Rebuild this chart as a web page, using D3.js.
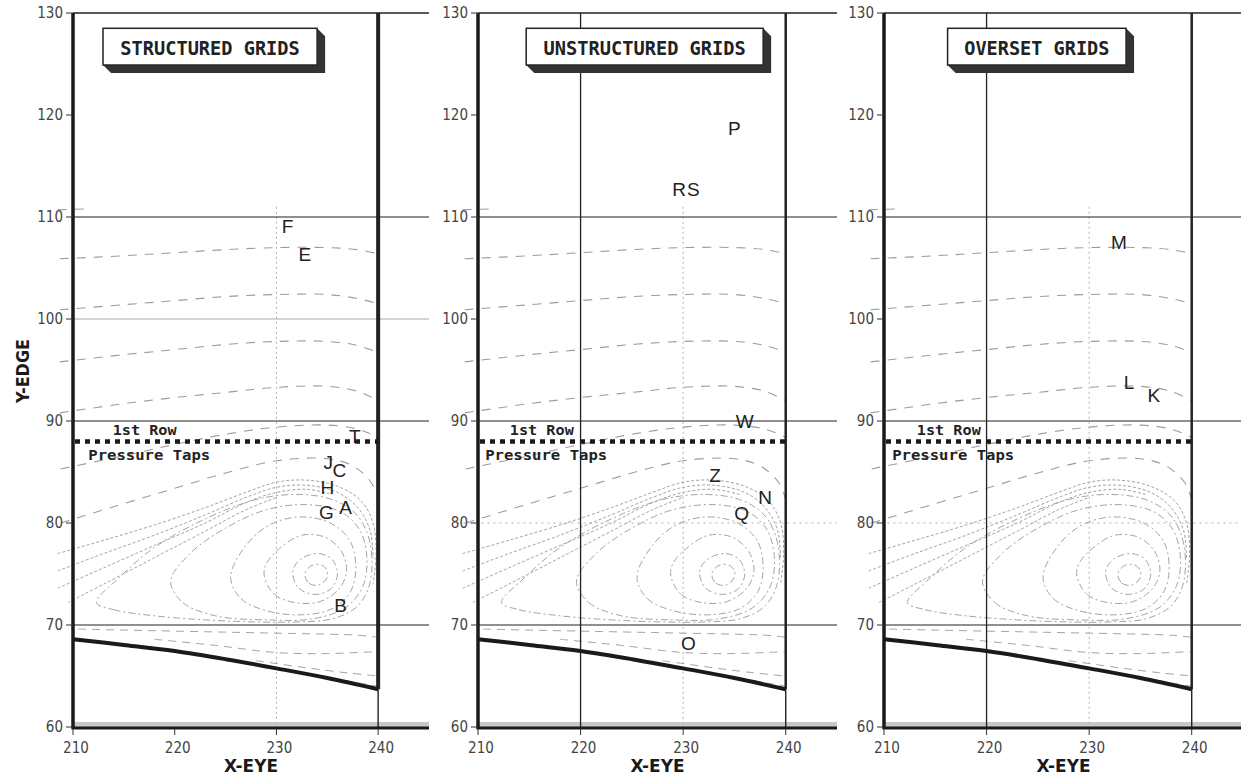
<!DOCTYPE html>
<html>
<head>
<meta charset="utf-8">
<script src="https://cdn.jsdelivr.net/npm/d3@7"></script>
<style>
  html, body { margin: 0; padding: 0; background: #fff; }
  svg { display: block; }
  .tick-label { font-family: "DejaVu Sans Condensed", "DejaVu Sans", sans-serif; font-stretch: condensed; font-size: 15px; fill: #444; }
  .axis-title { font-family: "DejaVu Sans Condensed", "DejaVu Sans", sans-serif; font-stretch: condensed; font-weight: bold; font-size: 18px; fill: #1a1a1a; }
  .panel-title { font-family: "DejaVu Sans Mono", monospace; font-weight: bold; font-size: 19px; fill: #222; }
  .tap-label { font-family: "DejaVu Sans Mono", monospace; font-weight: bold; font-size: 14px; fill: #222; }
  .point-label { font-family: "Liberation Sans", Arial, sans-serif; font-size: 19px; fill: #222; }
</style>
</head>
<body>
<script>
// ---- axes ----
const xDomain = [210, 245];
const yDomain = [60, 130];
const xTicks = [210, 220, 230, 240];
const yTicks = [60, 70, 80, 90, 100, 110, 120, 130];

// ---- panel titles ----
const panelTitles = ["STRUCTURED GRIDS", "UNSTRUCTURED GRIDS", "OVERSET GRIDS"];

// ---- lower wall (x, y) ----
const wallX = [210, 215, 220, 225, 230, 235, 240];
const wallY = [68.6, 68.05, 67.45, 66.65, 65.75, 64.8, 63.7];

// ---- first row of pressure taps ----
const tapRowY = 88;
const tapRowX = [210, 240];

// ---- labelled probe locations per panel ----
const structuredLabels = [
  { t: "F", x: 231.1, y: 109.1 }, { t: "E", x: 232.8, y: 106.3 },
  { t: "T", x: 237.7, y: 88.5 },  { t: "J", x: 235.1, y: 85.9 },
  { t: "C", x: 236.2, y: 85.1 },  { t: "H", x: 235.0, y: 83.5 },
  { t: "G", x: 234.9, y: 81.0 },  { t: "A", x: 236.8, y: 81.5 },
  { t: "B", x: 236.3, y: 71.9 }
];
const unstructuredLabels = [
  { t: "P", x: 235.0, y: 118.7 }, { t: "R", x: 229.6, y: 112.7 },
  { t: "S", x: 231.0, y: 112.7 }, { t: "W", x: 236.0, y: 90.0 },
  { t: "Z", x: 233.1, y: 84.7 },  { t: "N", x: 238.0, y: 82.5 },
  { t: "Q", x: 235.7, y: 80.9 },  { t: "O", x: 230.5, y: 68.2 }
];
const oversetLabels = [
  { t: "M", x: 232.9, y: 107.5 }, { t: "L", x: 233.9, y: 93.8 },
  { t: "K", x: 236.3, y: 92.5 }
];

// ---- streamlines (x, y) ----
const outerStreams = [
  [[208.5,110.7],[211.5,110.8]],
  [[208.7,105.9],[215,106.2],[220,106.5],[225,106.8],[230,107.0],[235,107.0],[238,106.8],[240,106.4]],
  [[208.7,100.9],[215,101.4],[220,101.8],[225,102.2],[230,102.4],[235,102.4],[238,102.0],[240,101.5]],
  [[208.7,95.8],[215,96.5],[220,97.0],[225,97.5],[230,97.8],[235,97.8],[238,97.4],[240,96.7]],
  [[208.7,90.8],[215,91.7],[220,92.3],[225,92.8],[230,93.3],[235,93.4],[238,92.9],[240,92.0]],
  [[208.8,85.3],[215,86.6],[220,87.7],[225,88.7],[230,89.4],[235,89.6],[238,89.2],[240,88.4]],
  [[208.8,80.0],[215,81.9],[220,83.4],[225,84.9],[230,86.1],[235,86.3],[237.5,85.6],[239.3,84.0],[240,82.3]]
];
const shearStreams = [
  [[208.5,77.0],[213,78.3],[218,79.8],[223,81.5],[227,83.0],[230,84.0],[233,84.2],[236,83.6],[238.3,82.2],[239.5,80.0],[239.8,77.0],[239.5,74.0]],
  [[208.5,75.3],[213,77.0],[218,78.8],[223,80.8],[227,82.5],[230,83.5],[233,83.7],[236,83.0],[238,81.5],[239.2,79.3],[239.5,76.5]],
  [[208.5,73.6],[213,75.6],[218,77.8],[223,80.0],[227,82.0],[230,83.0],[233,83.3],[235.5,82.8]],
  [[209.5,72.2],[213,74.0],[218,76.6],[223,79.2],[227,81.3],[230,82.5]]
];
const vortexLoops = [
  [[212.3,72.2],[214,71.5],[218,70.9],[223,70.5],[228,70.3],[232,70.3],[235.5,70.6],[237.8,71.7],[239.0,73.5],[239.4,76.0],[239.0,78.8],[237.8,80.9],[235.5,82.3],[232,82.8],[228,82.3],[223,80.4],[218,77.6],[214.5,74.6]],
  [[219.6,74.3],[220.8,72.2],[224,70.9],[229,70.5],[233.5,70.6],[236.8,71.7],[238.5,73.8],[238.9,76.5],[238.2,79.3],[236.3,81.1],[233,81.8],[229,81.3],[225,79.5],[221.5,77]],
  [[225.5,74.7],[226.5,72.6],[229,71.4],[232.5,71.0],[235.5,71.6],[237.3,73.3],[237.8,75.8],[237.2,78.3],[235.3,80.0],[232.3,80.6],[229.3,79.8],[227,77.8]],
  [[228.8,74.8],[229.8,73.0],[231.8,72.2],[234.3,72.3],[236.2,73.6],[236.9,75.3],[236.4,77.2],[234.8,78.6],[232.5,78.8],[230.3,77.5],[229,76]],
  [[231.6,75],[232.2,73.6],[233.8,73.0],[235.3,73.5],[236,74.9],[235.5,76.4],[234.2,77.0],[232.6,76.6],[231.8,75.8]],
  [[232.8,75],[233.2,74.1],[234.1,73.9],[234.9,74.5],[235,75.3],[234.4,75.9],[233.4,75.8]]
];
const wallStreams = [
  [[210.5,69.6],[215,69.5],[220,69.4],[225,69.3],[230,69.2],[235,69.1],[238,69.0],[240,68.8]],
  [[218,68.6],[224,68.0],[230,67.3],[235,67.2],[240,67.4]],
  [[228,66.5],[233,65.8],[237,65.3],[240,65.0]],
  [[234,65.0],[237,64.5],[240,64.0]]
];

// ---- panel layout ----
const panels = [
  { title: panelTitles[0], labels: structuredLabels, left: 73,  right: 429,
    box: [212.95, 234.0], solidH: [110, 90, 70], grayH: [100], dotH: [], solidV: [], dotV: [230],
    wallWidth: 4, tapText: [213.9, 211.5], yTitle: true },
  { title: panelTitles[1], labels: unstructuredLabels, left: 478, right: 837,
    box: [214.7, 237.8], solidH: [110, 90, 70], grayH: [], dotH: [80], solidV: [220], dotV: [230],
    wallWidth: 2.5, tapText: [213.1, 210.7], yTitle: false },
  { title: panelTitles[2], labels: oversetLabels, left: 884, right: 1243,
    box: [216.2, 233.6], solidH: [110, 90, 70], grayH: [], dotH: [80], solidV: [220], dotV: [230],
    wallWidth: 2.5, tapText: [213.2, 210.8], yTitle: false }
];

const W = 1241, H = 776;
const svg = d3.select("body").append("svg").attr("width", W).attr("height", H);
svg.append("rect").attr("width", W).attr("height", H).attr("fill", "#fff");

const y = d3.scaleLinear().domain(yDomain).range([727, 13]);

panels.forEach(p => {
  const x = d3.scaleLinear().domain(xDomain).range([p.left, p.right]);
  const g = svg.append("g");
  const line = d3.line().x(d => x(d[0])).y(d => y(d[1])).curve(d3.curveCatmullRom.alpha(0.5));
  const loop = d3.line().x(d => x(d[0])).y(d => y(d[1])).curve(d3.curveCatmullRomClosed.alpha(0.5));

  // bottom gray band
  g.append("rect").attr("x", x(210)).attr("y", y(60) - 5).attr("width", x(245) - x(210)).attr("height", 5).attr("fill", "#c8c8c8");

  // grid lines
  p.grayH.forEach(v => g.append("line").attr("x1", x(210)).attr("x2", x(245)).attr("y1", y(v)).attr("y2", y(v))
    .attr("stroke", "#a8a8a8").attr("stroke-width", 1));
  p.dotH.forEach(v => g.append("line").attr("x1", x(208)).attr("x2", x(245)).attr("y1", y(v)).attr("y2", y(v))
    .attr("stroke", "#b0b0b0").attr("stroke-width", 1).attr("stroke-dasharray", "2 4"));
  p.dotV.forEach(v => g.append("line").attr("x1", x(v)).attr("x2", x(v)).attr("y1", y(111)).attr("y2", y(60))
    .attr("stroke", "#b0b0b0").attr("stroke-width", 1).attr("stroke-dasharray", "2 3"));

  // streamlines
  outerStreams.forEach(s => g.append("path").attr("d", line(s)).attr("fill", "none")
    .attr("stroke", "#9c9c9c").attr("stroke-width", 1.1).attr("stroke-dasharray", "9 8"));
  shearStreams.forEach(s => g.append("path").attr("d", line(s)).attr("fill", "none")
    .attr("stroke", "#a4a4a4").attr("stroke-width", 1).attr("stroke-dasharray", "3 2"));
  vortexLoops.forEach(s => g.append("path").attr("d", loop(s)).attr("fill", "none")
    .attr("stroke", "#a4a4a4").attr("stroke-width", 1).attr("stroke-dasharray", "7 3 2 3"));
  wallStreams.forEach(s => g.append("path").attr("d", line(s)).attr("fill", "none")
    .attr("stroke", "#a4a4a4").attr("stroke-width", 1).attr("stroke-dasharray", "8 6"));

  // solid grid lines
  p.solidH.forEach(v => g.append("line").attr("x1", x(210)).attr("x2", x(245)).attr("y1", y(v)).attr("y2", y(v))
    .attr("stroke", "#222").attr("stroke-width", 1.2));
  p.solidV.forEach(v => g.append("line").attr("x1", x(v)).attr("x2", x(v)).attr("y1", y(130)).attr("y2", y(60))
    .attr("stroke", "#222").attr("stroke-width", 1.3));

  // top border
  g.append("line").attr("x1", x(210)).attr("x2", x(245)).attr("y1", y(130)).attr("y2", y(130))
    .attr("stroke", "#222").attr("stroke-width", 1.5);

  // right wall at x = 240
  g.append("line").attr("x1", x(240)).attr("x2", x(240)).attr("y1", y(130)).attr("y2", y(wallY[wallY.length - 1]))
    .attr("stroke", "#222").attr("stroke-width", p.wallWidth);
  g.append("line").attr("x1", x(240)).attr("x2", x(240)).attr("y1", y(wallY[wallY.length - 1])).attr("y2", y(60))
    .attr("stroke", "#222").attr("stroke-width", 1.4);

  // lower wall
  g.append("path").attr("d", line(wallX.map((v, i) => [v, wallY[i]]))).attr("fill", "none")
    .attr("stroke", "#1a1a1a").attr("stroke-width", 4);

  // pressure tap row
  g.append("line").attr("x1", x(tapRowX[0]) + 2).attr("x2", x(tapRowX[1])).attr("y1", y(tapRowY)).attr("y2", y(tapRowY))
    .attr("stroke", "#1a1a1a").attr("stroke-width", 4.5).attr("stroke-dasharray", "5 5");
  g.append("text").attr("class", "tap-label").attr("x", x(p.tapText[0])).attr("y", y(tapRowY) - 6)
    .attr("textLength", 64).attr("lengthAdjust", "spacingAndGlyphs").text("1st Row");
  g.append("text").attr("class", "tap-label").attr("x", x(p.tapText[1])).attr("y", y(tapRowY) + 19)
    .attr("textLength", 122).attr("lengthAdjust", "spacingAndGlyphs").text("Pressure Taps");

  // axes
  g.append("line").attr("x1", x(210)).attr("x2", x(210)).attr("y1", y(130)).attr("y2", y(60) + 1.5)
    .attr("stroke", "#1a1a1a").attr("stroke-width", 3.5);
  g.append("line").attr("x1", x(210) - 1.5).attr("x2", x(245)).attr("y1", y(60) + 1).attr("y2", y(60) + 1)
    .attr("stroke", "#1a1a1a").attr("stroke-width", 3);

  yTicks.forEach(v => {
    g.append("line").attr("x1", x(210) - 7).attr("x2", x(210)).attr("y1", y(v)).attr("y2", y(v))
      .attr("stroke", "#333").attr("stroke-width", 1);
    g.append("text").attr("class", "tick-label").attr("x", x(210) - 10).attr("y", y(v))
      .attr("text-anchor", "end").attr("dominant-baseline", "central").text(v);
  });
  xTicks.forEach(v => {
    g.append("line").attr("x1", x(v)).attr("x2", x(v)).attr("y1", y(60) + 2).attr("y2", y(60) + 8)
      .attr("stroke", "#333").attr("stroke-width", 1);
    g.append("text").attr("class", "tick-label").attr("x", x(v) + 3).attr("y", y(60) + 21)
      .attr("text-anchor", "middle").attr("dominant-baseline", "central").text(v);
  });
  g.append("text").attr("class", "axis-title").attr("x", x(227.5)).attr("y", 765)
    .attr("text-anchor", "middle").attr("dominant-baseline", "central")
    .attr("textLength", 54).attr("lengthAdjust", "spacingAndGlyphs").text("X-EYE");
  if (p.yTitle) {
    g.append("text").attr("class", "axis-title").attr("transform", `translate(22,371) rotate(-90)`)
      .attr("text-anchor", "middle").attr("dominant-baseline", "central")
      .attr("textLength", 64).attr("lengthAdjust", "spacingAndGlyphs").text("Y-EDGE");
  }

  // title box with raised shadow
  const bx0 = x(p.box[0]), bx1 = x(p.box[1]), by0 = y(128.5), by1 = y(124.9), d = 8;
  g.append("polygon")
    .attr("points", [[bx1, by0], [bx1 + d, by0 + d], [bx1 + d, by1 + d], [bx0 + d, by1 + d], [bx0, by1], [bx1, by1]].map(q => q.join(",")).join(" "))
    .attr("fill", "#333");
  g.append("rect").attr("x", bx0).attr("y", by0).attr("width", bx1 - bx0).attr("height", by1 - by0)
    .attr("fill", "#fff").attr("stroke", "#222").attr("stroke-width", 1.5);
  const tw = p.title.length * 11.4 - 3;
  g.append("text").attr("class", "panel-title").attr("x", (bx0 + bx1) / 2).attr("y", (by0 + by1) / 2 + 1)
    .attr("text-anchor", "middle").attr("dominant-baseline", "central")
    .attr("textLength", tw).attr("lengthAdjust", "spacingAndGlyphs").text(p.title);

  // probe labels
  g.selectAll("text.point-label").data(p.labels).enter().append("text").attr("class", "point-label")
    .attr("x", d => x(d.x)).attr("y", d => y(d.y))
    .attr("text-anchor", "middle").attr("dominant-baseline", "central").text(d => d.t);
});
</script>
</body>
</html>
